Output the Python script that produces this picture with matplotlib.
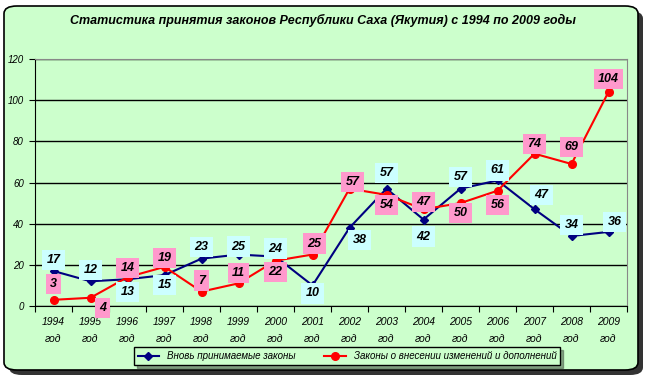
import matplotlib
matplotlib.use("Agg")
import matplotlib.pyplot as plt
from matplotlib.patches import FancyBboxPatch

years = ["1994", "1995", "1996", "1997", "1998", "1999", "2000", "2001",
         "2002", "2003", "2004", "2005", "2006", "2007", "2008", "2009"]
new_laws = [17, 12, 13, 15, 23, 25, 24, 10, 38, 57, 42, 57, 61, 47, 34, 36]
amend_laws = [3, 4, 14, 19, 7, 11, 22, 25, 57, 54, 47, 50, 56, 74, 69, 104]
title = "Статистика принятия законов Республики Саха (Якутия) с 1994 по 2009 годы"
label_new = "Вновь принимаемые законы"
label_amend = "Законы о внесении изменений и дополнений"

# label offsets in pixels (dx, dy), positive dy = up
new_off = [(0, 11), (0, 11), (0, -13), (0, -10), (0, 12), (0, 8), (0, 8), (0, -8),
           (10, -12), (0, 16), (0, -17), (0, 12), (0, 10), (7, 14), (0, 11), (6, 10)]
amend_off = [(0, 16), (12, -10), (0, 9), (0, 9), (0, 11), (0, 10), (0, -11), (2, 11),
             (3, 7), (0, -10), (0, 7), (0, -10), (0, -14), (0, 10), (0, 17), (0, 13)]

plt.rcParams['font.family'] = ['Liberation Sans Narrow', 'Liberation Sans', 'DejaVu Sans']

W, H = 646, 377
fig = plt.figure(figsize=(W / 100, H / 100), dpi=100)
fig.patch.set_facecolor("white")

shadow = FancyBboxPatch((9 / W, 2 / H), 634 / W, 364 / H,
                        boxstyle="round,pad=0,rounding_size=0.02",
                        transform=fig.transFigure, facecolor="#333333",
                        edgecolor="none", zorder=0)
frame = FancyBboxPatch((4 / W, 7 / H), 634 / W, 364 / H,
                       boxstyle="round,pad=0,rounding_size=0.02",
                       transform=fig.transFigure, facecolor="#CCFFCC",
                       edgecolor="black", linewidth=1.2, zorder=1)
fig.patches.extend([shadow, frame])

ax = fig.add_axes([35 / W, 1 - 306 / H, (627 - 35) / W, (306 - 59) / H])
ax.set_facecolor("#CCFFCC")
ax.set_zorder(2)

x = list(range(len(years)))
ax.plot(x, new_laws, color="#000080", lw=1.5, marker="D", ms=4, zorder=3)
ax.plot(x, amend_laws, color="#FF0000", lw=1.5, marker="o", ms=5.5, zorder=3)

def add_labels(vals, offs, fc):
    for i, (v, (dx, dy)) in enumerate(zip(vals, offs)):
        ax.annotate(str(v), xy=(i, v), xytext=(dx, dy), textcoords="offset pixels",
                    ha="center", va="center", fontsize=9, fontweight="bold",
                    fontstyle="italic", zorder=5, annotation_clip=False,
                    bbox=dict(boxstyle="square,pad=0.33", fc=fc, ec="none"))

add_labels(new_laws, new_off, "#CCFFFF")
add_labels(amend_laws, amend_off, "#FF99CC")

ax.set_xlim(-0.5, len(years) - 0.5)
ax.set_ylim(0, 120)
ax.set_yticks(range(0, 121, 20))
ax.set_yticklabels([str(v) for v in range(0, 121, 20)], fontsize=7, fontstyle="italic")
ax.yaxis.grid(True, color="black", lw=1)
ax.set_axisbelow(True)

ax.set_xticks([i - 0.5 for i in range(len(years) + 1)])
ax.set_xticklabels([])
ax.set_xticks(x, minor=True)
ax.set_xticklabels([y + "\nгод" for y in years], minor=True, fontsize=7.5,
                   fontstyle="italic", linespacing=1.9)
ax.tick_params(axis="x", which="minor", length=0, pad=8)
ax.tick_params(axis="x", which="major", length=4, direction="out")
ax.tick_params(axis="y", length=4, direction="out", pad=4)
ax.spines["top"].set_color("#888888")
ax.spines["right"].set_color("#888888")

fig.text(0.5, 1 - 20 / H, title, ha="center", va="center", fontsize=9,
         fontweight="bold", fontstyle="italic", zorder=3)

leg = fig.legend([label_new, label_amend],
                 loc="center", bbox_to_anchor=(347 / W, 1 - 356 / H), ncol=2,
                 frameon=True, fancybox=False, shadow=True,
                 handlelength=2.2, columnspacing=3, borderpad=0.4,
                 prop={"style": "italic", "size": 7})
leg.get_frame().set_facecolor("#CCFFCC")
leg.get_frame().set_edgecolor("black")
leg.set_zorder(4)

fig.savefig("out.png", dpi=100)
